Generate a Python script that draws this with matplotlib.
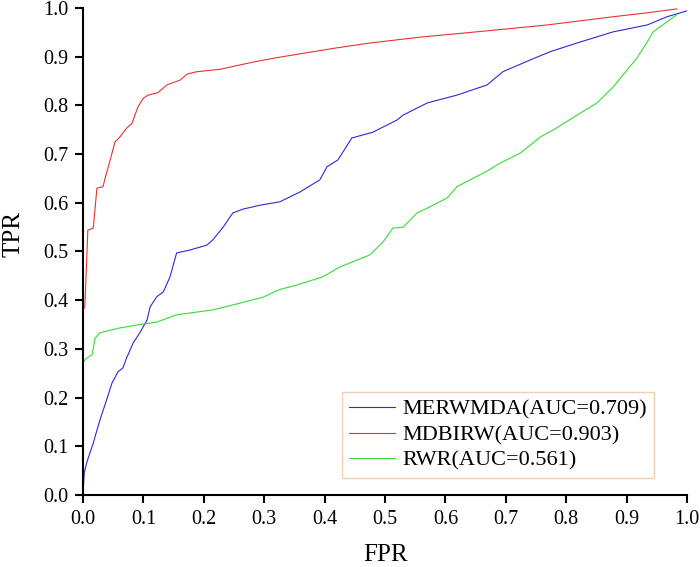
import matplotlib
matplotlib.use('Agg')
import matplotlib.pyplot as plt

plt.rcParams['font.family'] = ['Liberation Serif', 'DejaVu Serif']

# MDBIRW ROC curve
red_fpr = [0.0, 0.0, 0.003, 0.008, 0.017, 0.023, 0.033, 0.038, 0.045, 0.053, 0.061, 0.072,
           0.081, 0.091, 0.1, 0.108, 0.124, 0.139, 0.161, 0.172, 0.188, 0.227, 0.282, 0.326,
           0.42, 0.475, 0.558, 0.669, 0.768, 0.878, 0.934, 0.983]
red_tpr = [0.0, 0.38, 0.386, 0.544, 0.548, 0.63, 0.633, 0.657, 0.688, 0.725, 0.735, 0.753,
           0.763, 0.797, 0.815, 0.821, 0.826, 0.842, 0.852, 0.864, 0.869, 0.874, 0.889, 0.899,
           0.918, 0.928, 0.94, 0.953, 0.965, 0.982, 0.99, 0.998]

# MERWMDA ROC curve
blue_fpr = [0.0, 0.0, 0.002, 0.006, 0.017, 0.028, 0.039, 0.048, 0.058, 0.066, 0.072, 0.083,
            0.094, 0.106, 0.111, 0.122, 0.133, 0.144, 0.155, 0.177, 0.205, 0.215, 0.232, 0.248,
            0.265, 0.293, 0.326, 0.359, 0.392, 0.404, 0.422, 0.445, 0.48, 0.52, 0.53, 0.57,
            0.619, 0.669, 0.695, 0.74, 0.773, 0.823, 0.878, 0.934, 0.967, 1.0]
blue_tpr = [0.0, 0.004, 0.045, 0.066, 0.107, 0.154, 0.195, 0.23, 0.253, 0.261, 0.281, 0.312,
            0.333, 0.359, 0.386, 0.407, 0.417, 0.448, 0.497, 0.503, 0.513, 0.524, 0.55, 0.579,
            0.587, 0.595, 0.602, 0.622, 0.647, 0.674, 0.688, 0.733, 0.745, 0.77, 0.78, 0.805,
            0.821, 0.842, 0.869, 0.893, 0.91, 0.93, 0.951, 0.965, 0.982, 0.994]

# RWR ROC curve
green_fpr = [0.0, 0.0, 0.006, 0.015, 0.02, 0.028, 0.061, 0.089, 0.122, 0.155, 0.215, 0.26,
             0.298, 0.313, 0.326, 0.354, 0.397, 0.425, 0.475, 0.497, 0.513, 0.53, 0.553,
             0.57, 0.603, 0.619, 0.669, 0.69, 0.724, 0.757, 0.778, 0.823, 0.851, 0.878,
             0.901, 0.917, 0.934, 0.944, 0.964, 0.983]
green_tpr = [0.0, 0.273, 0.281, 0.288, 0.322, 0.333, 0.343, 0.349, 0.355, 0.37, 0.38, 0.394,
             0.406, 0.415, 0.422, 0.431, 0.448, 0.468, 0.493, 0.52, 0.548, 0.55, 0.579,
             0.589, 0.61, 0.633, 0.665, 0.681, 0.702, 0.735, 0.749, 0.784, 0.805, 0.838,
             0.873, 0.897, 0.93, 0.951, 0.969, 0.986]

ticks = [0.0, 0.1, 0.2, 0.3, 0.4, 0.5, 0.6, 0.7, 0.8, 0.9, 1.0]

fig = plt.figure(figsize=(7, 5.67), dpi=100)
ax = fig.add_axes([0.1186, 0.127, 0.8629, 0.859])

ax.plot(blue_fpr, blue_tpr, color='#2b2bd6', lw=0.8, label='MERWMDA(AUC=0.709)')
ax.plot(red_fpr, red_tpr, color='#e63333', lw=0.8, label='MDBIRW(AUC=0.903)')
ax.plot(green_fpr, green_tpr, color='#33dd33', lw=0.8, label='RWR(AUC=0.561)')

ax.set_xlim(0, 1)
ax.set_ylim(0, 1)
ax.set_xticks(ticks)
ax.set_yticks(ticks)
ax.set_xticklabels(['%.1f' % t for t in ticks])
ax.set_yticklabels(['%.1f' % t for t in ticks])
ax.spines['top'].set_visible(False)
ax.spines['right'].set_visible(False)
ax.spines['left'].set_linewidth(1.5)
ax.spines['bottom'].set_linewidth(1.5)
ax.tick_params(direction='out', length=6, width=1.5, labelsize=14.5, pad=4.5)

ax.set_xlabel('FPR', fontsize=18)
ax.set_ylabel('TPR', fontsize=18)
ax.xaxis.set_label_coords(0.5, -0.10)
ax.yaxis.set_label_coords(-0.097, 0.536)

leg = ax.legend(loc='lower right', bbox_to_anchor=(0.945, 0.035), fontsize=16,
                frameon=True, fancybox=False, handlelength=2.1, borderpad=0.32,
                labelspacing=0.22, handletextpad=0.3, borderaxespad=0)
leg.get_frame().set_edgecolor('#f2c49b')
leg.get_frame().set_linewidth(1.0)

fig.savefig('out.png', dpi=100)
